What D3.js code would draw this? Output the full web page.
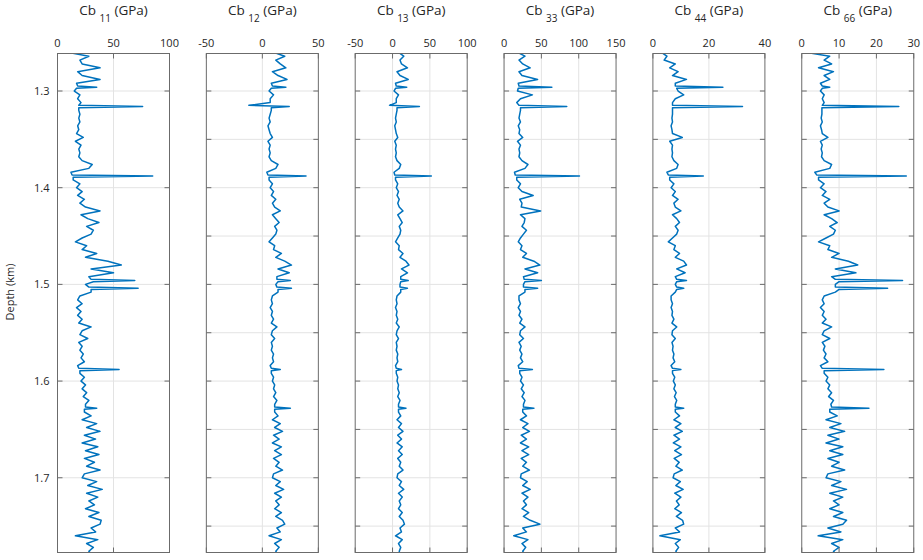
<!DOCTYPE html>
<html lang="en">
<head>
  <meta charset="UTF-8">
  <script src="https://d3js.org/d3.v7.min.js"></script>
  <style>
    body {
      margin: 0;
      padding: 0;
      background-color: #fff;
      font-family: "Open Sans", "Noto Sans", Arial, sans-serif;
    }
    text {
      fill: #262626;
    }
  </style>
</head>
<body>
  <div id="chart"></div>

  <script>
    // depth samples (km), shared by all six logs; extra samples around the spikes
    const depth = [
      1.260, 1.264, 1.268, 1.272, 1.276, 1.280, 1.284, 1.288, 1.292,
      1.2948, 1.296, 1.2972,
      1.300, 1.304, 1.308, 1.312,
      1.3148, 1.316, 1.3172,
      1.320, 1.324, 1.328, 1.332, 1.336, 1.340, 1.344, 1.348, 1.352, 1.356,
      1.360, 1.364, 1.368, 1.372, 1.376, 1.380, 1.384,
      1.3868, 1.388, 1.3892,
      1.392, 1.396, 1.400, 1.404, 1.408, 1.412, 1.416, 1.420, 1.424, 1.428,
      1.432, 1.436, 1.440, 1.444, 1.448, 1.452, 1.456, 1.460, 1.464, 1.468,
      1.472, 1.476, 1.480, 1.484, 1.488, 1.492,
      1.4948, 1.496, 1.4972, 1.500, 1.5028, 1.504, 1.5052,
      1.508, 1.512, 1.516, 1.520, 1.524, 1.528, 1.532, 1.536, 1.540, 1.544,
      1.548, 1.552, 1.556, 1.560, 1.564, 1.568, 1.572, 1.576, 1.580, 1.584,
      1.5868, 1.588, 1.5892,
      1.592, 1.596, 1.600, 1.604, 1.608, 1.612, 1.616, 1.620, 1.624,
      1.6268, 1.628, 1.6292,
      1.632, 1.636, 1.640, 1.644, 1.648, 1.652, 1.656,
      1.660, 1.664, 1.668, 1.672, 1.676, 1.680, 1.684, 1.688, 1.692, 1.696,
      1.700, 1.704, 1.708, 1.712, 1.716, 1.720, 1.724, 1.728, 1.732, 1.736,
      1.740, 1.744, 1.748, 1.752, 1.756, 1.760, 1.764, 1.768, 1.772, 1.776, 1.780
    ];

    // stiffness logs (GPa)
    const cb11 = [
      9, 28, 20, 22, 38, 18, 22, 38, 17,
      18, 35, 17,
      15, 20, 18, 21,
      19, 76, 19,
      19, 20, 19, 20, 18, 19, 17, 23, 16, 21,
      19, 20, 19, 22, 31, 28, 12,
      13, 85, 14,
      14, 20, 17, 22, 18, 24, 20, 25, 38, 21,
      27, 37, 26, 32, 30, 22, 16, 26, 22, 35,
      25, 45, 57, 30, 50, 28,
      30, 69, 32, 25, 28, 72, 30,
      30, 20, 18, 22, 17, 21, 18, 22, 19, 30,
      22, 20, 27, 19, 22, 20, 23, 21, 24, 18,
      19, 55, 20,
      20, 24, 21, 25, 22, 26, 23, 28, 25,
      25, 35, 24,
      24, 30, 22, 35, 26, 38, 24,
      34, 22, 36, 25, 37, 24, 33, 26, 38, 24,
      22, 35, 27, 40, 26, 36, 28, 33, 25, 37,
      28, 39, 38, 30, 34, 16, 36, 26, 32, 28, 31
    ];
    const cb12 = [
      10, 20, 12, 16, 21, 9, 14, 22, 8,
      9, 21, 8,
      6, 10, 7, 7,
      -12, 24, 8,
      8, 7, 6, 7, 5, 6, 7, 9, 5, 7,
      6, 7, 6, 8, 14, 12, 4,
      5, 39, 6,
      6, 9, 7, 10, 8, 12, 9, 11, 16, 9,
      12, 15, 11, 13, 12, 9, 6, 11, 10, 17,
      12, 20, 26, 14, 24, 13,
      13, 25, 14, 12, 13, 26, 14,
      14, 9, 8, 9, 7, 9, 8, 10, 8, 13,
      9, 8, 11, 8, 9, 8, 10, 9, 10, 7,
      8, 16, 8,
      8, 10, 9, 11, 10, 12, 10, 13, 11,
      11, 25, 11,
      11, 14, 9, 16, 11, 18, 10,
      15, 9, 17, 11, 17, 10, 15, 12, 18, 10,
      9, 16, 12, 19, 11, 17, 12, 15, 11, 17,
      12, 18, 20, 13, 16, 6, 17, 11, 15, 12, 14
    ];
    const cb13 = [
      8, 15, 10, 12, 20, 6, 10, 21, 4,
      5, 19, 4,
      2, 8, 5, 5,
      -4, 36, 6,
      6, 5, 4, 5, 3, 4, 5, 7, 3, 5,
      4, 5, 4, 6, 11, 9, 2,
      3, 52, 4,
      4, 7, 5, 8, 6, 9, 7, 9, 14, 7,
      10, 13, 9, 11, 10, 7, 4, 9, 8, 14,
      10, 18, 22, 12, 20, 11,
      11, 21, 11, 10, 10, 20, 11,
      11, 6, 5, 6, 4, 6, 5, 7, 5, 9,
      6, 5, 8, 5, 6, 5, 7, 6, 7, 4,
      5, 12, 5,
      5, 7, 6, 8, 7, 9, 7, 10, 8,
      8, 18, 8,
      8, 11, 6, 12, 8, 14, 7,
      12, 6, 13, 8, 13, 7, 11, 9, 14, 7,
      6, 12, 9, 15, 8, 13, 9, 11, 8, 13,
      9, 14, 16, 10, 12, 4, 13, 8, 11, 9, 10
    ];
    const cb33 = [
      18, 28, 20, 25, 35, 20, 24, 45, 19,
      20, 64, 19,
      18, 38, 22, 17,
      20, 84, 22,
      22, 21, 20, 22, 19, 21, 20, 25, 18, 22,
      20, 21, 20, 24, 32, 28, 14,
      15, 101, 17,
      17, 22, 19, 24, 39, 21, 24, 23, 49, 22,
      28, 27, 24, 30, 26, 22, 19, 24, 22, 30,
      25, 40, 48, 28, 45, 26,
      27, 50, 28, 26, 26, 45, 28,
      28, 20, 20, 22, 19, 22, 20, 24, 21, 28,
      22, 21, 26, 20, 23, 21, 24, 22, 25, 19,
      20, 38, 21,
      21, 24, 22, 26, 23, 27, 24, 28, 26,
      26, 40, 25,
      25, 30, 22, 32, 25, 34, 23,
      30, 22, 33, 24, 33, 23, 30, 25, 34, 23,
      22, 31, 25, 35, 24, 32, 26, 30, 24, 33,
      26, 35, 48, 25, 30, 13, 32, 24, 29, 25, 28
    ];
    const cb44 = [
      3, 5, 4, 8, 6, 9, 7, 12, 8,
      8, 25, 8.5,
      9, 11, 8, 7,
      7, 32, 7,
      7, 7, 6.8, 7, 6.5, 6.8, 7, 10.5, 6, 7,
      6.8, 7, 6.8, 7.5, 9, 8.5, 5,
      5.5, 18, 6,
      6, 7.5, 6.5, 8, 7, 9, 7.5, 8, 10, 7,
      8.5, 9.5, 8, 9, 8.5, 7, 5.5, 8, 7.5, 9.5,
      8, 11, 12, 8.5, 11.5, 8,
      8.5, 12, 8.5, 8, 8.5, 11, 8.5,
      8, 6.5, 6.5, 7, 6.5, 7, 6.8, 7.5, 6.8, 8.5,
      7, 6.8, 8, 6.8, 7.2, 7, 7.5, 7.2, 7.8, 6.5,
      7, 10, 7,
      7, 7.8, 7.3, 8, 7.5, 8.3, 7.7, 8.5, 8,
      8, 11, 8,
      8, 9.5, 7.5, 10, 8, 10.5, 7.5,
      9.5, 7.3, 10, 7.8, 10.2, 7.6, 9.4, 8.2, 10.5, 7.6,
      7.2, 9.8, 8.2, 10.8, 7.8, 10, 8.4, 9.4, 7.8, 10.2,
      8.4, 10.6, 11, 8, 9.5, 2.5, 9.8, 8, 9.2, 8.2, 9
    ];
    const cb66 = [
      1, 7.5, 6, 8, 4.5, 8.5, 6, 7.5, 5,
      5.5, 7.5, 5.5,
      5, 6, 5.5, 6,
      5.5, 26, 5.4,
      5.4, 5.4, 5.2, 5.5, 5, 5.3, 5.5, 7, 5, 5.5,
      5.2, 5.5, 5.3, 6, 8, 7.5, 3.5,
      4, 28, 4.5,
      4.5, 6, 5, 6.5, 5.5, 7.5, 6, 7, 10, 6,
      8, 9.5, 7.5, 9, 8.5, 6.5, 4.5, 7.5, 7, 10,
      8, 12.5, 15, 9, 14.5, 8,
      9, 27, 10, 9, 9, 23, 10,
      9, 6, 5.5, 6, 5, 6, 5.5, 6.5, 5.5, 8,
      6, 5.5, 7.5, 5.5, 6.2, 5.8, 6.5, 6, 7, 5,
      5.5, 22, 6,
      6, 7, 6.5, 7.5, 7, 8, 7.2, 8.5, 7.8,
      8, 18, 7.5,
      7.5, 9.5, 6.5, 10.5, 7.5, 11.5, 7,
      10, 6.5, 11, 7.5, 11, 7, 10, 8, 11.5, 7,
      6.5, 10.5, 8, 12, 7.5, 11, 8.5, 10, 7.5, 11,
      8.5, 12, 11, 7, 10.5, 4.4, 11, 8, 10, 8.5, 9.5
    ];

    const labels = ["11", "12", "13", "33", "44", "66"];
    const series = [cb11, cb12, cb13, cb33, cb44, cb66];
    const xDomains = [[0, 100], [-50, 50], [-50, 100], [0, 150], [0, 40], [0, 30]];
    const xTicks = [[0, 50, 100], [-50, 0, 50], [-50, 0, 50, 100], [0, 50, 100, 150], [0, 20, 40], [0, 10, 20, 30]];
    const depthDomain = [1.2612, 1.7773];
    const depthTicksMajor = [1.3, 1.4, 1.5, 1.6, 1.7];
    const depthTicksMinor = [1.3, 1.35, 1.4, 1.45, 1.5, 1.55, 1.6, 1.65, 1.7, 1.75];

    const width = 923, height = 560;
    const left0 = 57.5, step = 148.85, panelW = 112;
    const plotTop = 53.5, plotBottom = 552.5;
    const tickLen = 5;

    const svg = d3.select("#chart")
      .append("svg")
      .attr("width", width)
      .attr("height", height);

    const y = d3.scaleLinear().domain(depthDomain).range([plotTop, plotBottom]);

    series.forEach((vals, i) => {
      const x0 = left0 + i * step;
      const x = d3.scaleLinear().domain(xDomains[i]).range([x0, x0 + panelW]);
      const yTicks = i === 0 ? depthTicksMajor : depthTicksMinor;
      const g = svg.append("g");

      // grid
      g.selectAll(".gy")
        .data(yTicks)
        .enter()
        .append("line")
        .attr("x1", x0).attr("x2", x0 + panelW)
        .attr("y1", d => y(d)).attr("y2", d => y(d))
        .attr("stroke", "#e3e3e3");
      g.selectAll(".gx")
        .data(xTicks[i].slice(1, -1))
        .enter()
        .append("line")
        .attr("x1", d => x(d)).attr("x2", d => x(d))
        .attr("y1", plotTop).attr("y2", plotBottom)
        .attr("stroke", "#e3e3e3");

      // log curve
      svg.append("clipPath")
        .attr("id", "clip" + i)
        .append("rect")
        .attr("x", x0).attr("y", plotTop)
        .attr("width", panelW).attr("height", plotBottom - plotTop);

      const line = d3.line()
        .x(d => x(d))
        .y((d, k) => y(depth[k]));

      g.append("path")
        .datum(vals)
        .attr("clip-path", `url(#clip${i})`)
        .attr("d", line)
        .attr("fill", "none")
        .attr("stroke", "#0072bd")
        .attr("stroke-width", 1.5)
        .attr("stroke-linejoin", "round");

      // box
      g.append("rect")
        .attr("x", x0).attr("y", plotTop)
        .attr("width", panelW).attr("height", plotBottom - plotTop)
        .attr("fill", "none")
        .attr("stroke", "#6b6b6b");

      // ticks on all four sides, pointing in
      yTicks.forEach(t => {
        g.append("line")
          .attr("x1", x0).attr("x2", x0 + tickLen)
          .attr("y1", y(t)).attr("y2", y(t))
          .attr("stroke", "#6b6b6b");
        g.append("line")
          .attr("x1", x0 + panelW - tickLen).attr("x2", x0 + panelW)
          .attr("y1", y(t)).attr("y2", y(t))
          .attr("stroke", "#6b6b6b");
      });
      xTicks[i].forEach(t => {
        g.append("line")
          .attr("x1", x(t)).attr("x2", x(t))
          .attr("y1", plotTop).attr("y2", plotTop + tickLen)
          .attr("stroke", "#6b6b6b");
        g.append("line")
          .attr("x1", x(t)).attr("x2", x(t))
          .attr("y1", plotBottom - tickLen).attr("y2", plotBottom)
          .attr("stroke", "#6b6b6b");
      });

      // x tick labels on top
      g.selectAll(".xl")
        .data(xTicks[i])
        .enter()
        .append("text")
        .attr("x", d => x(d))
        .attr("y", plotTop - 7)
        .attr("text-anchor", "middle")
        .attr("font-size", "11px")
        .text(d => d);

      // title: Cb _{ij} (GPa)
      const title = g.append("text")
        .attr("x", x0 + panelW / 2)
        .attr("y", 15)
        .attr("text-anchor", "middle")
        .attr("font-size", "13.5px");
      title.append("tspan").text("Cb ");
      title.append("tspan").attr("dy", 7).attr("font-size", "10px").text(labels[i]);
      title.append("tspan").attr("dy", -7).text(" (GPa)");

      if (i === 0) {
        g.selectAll(".yl")
          .data(yTicks)
          .enter()
          .append("text")
          .attr("x", x0 - 8)
          .attr("y", d => y(d))
          .attr("dy", "0.35em")
          .attr("text-anchor", "end")
          .attr("font-size", "11px")
          .text(d => d);
      }
    });

    svg.append("text")
      .attr("transform", "translate(14,292) rotate(-90)")
      .attr("text-anchor", "middle")
      .attr("font-size", "11px")
      .text("Depth (km)");
  </script>
</body>
</html>
